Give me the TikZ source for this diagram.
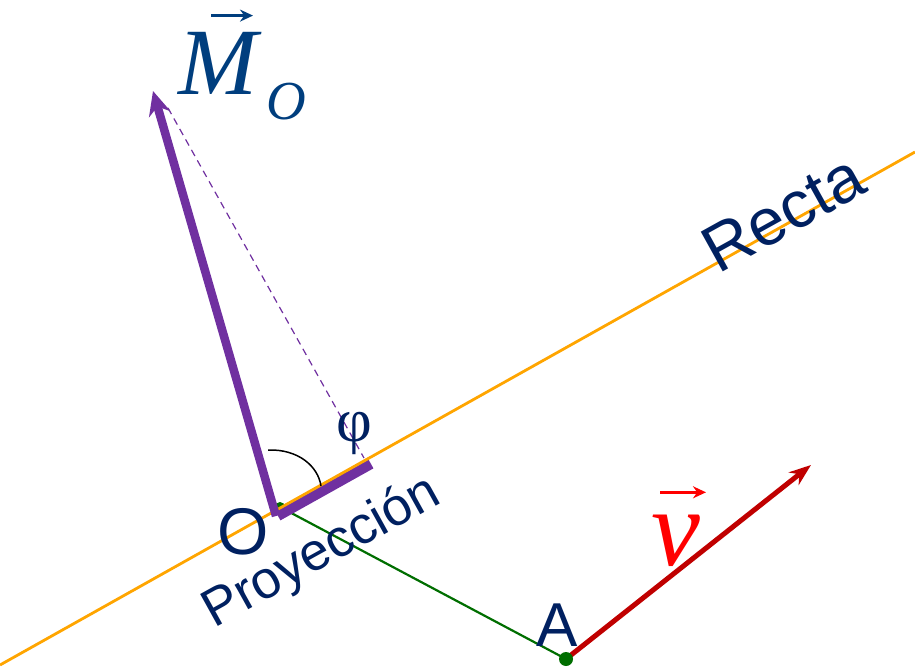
\documentclass[tikz,border=0pt]{standalone}
\usepackage{fontspec}
\setmainfont{Liberation Sans}
\newfontfamily\serifit{Liberation Serif}
\usetikzlibrary{arrows.meta,calc}
\definecolor{navy}{RGB}{0,32,96}
\definecolor{mblue}{RGB}{0,62,126}
\definecolor{naranja}{RGB}{255,165,0}
\definecolor{morado}{RGB}{112,48,160}
\definecolor{rojo}{RGB}{192,0,0}
\definecolor{rojov}{RGB}{255,0,0}
\definecolor{verde}{RGB}{0,110,0}
\tikzset{
  lbl/.style={text=navy, inner sep=0pt},
  fs/.style={font=\fontsize{#1}{#1}\selectfont},
}

\begin{document}
\begin{tikzpicture}[x=1pt, y=-1pt, >=Stealth]
		\useasboundingbox (0,0) rectangle (915,668);
		\coordinate (L1)   at (0,665);
		\coordinate (L2)   at (915,152);
		\coordinate (O)    at (280,507);
		\coordinate (Oc)   at (278,516);
		\coordinate (P)    at (371,464);
		\coordinate (Mtip) at (153,91);
		\coordinate (Dtop) at (168,108);
		\coordinate (Dbot) at (364,458);
		\coordinate (A)    at (566,659);
		\coordinate (Vtip) at (811,465);
		\draw[verde, line width=2.2pt] (O) -- (A);
		\fill[verde] (O) circle (5pt);
		\draw[morado, line width=10pt] (Oc) -- (P);
		\draw[naranja, line width=2.8pt] (L1) -- (L2);
		\draw[morado, line width=8.5pt, line join=miter, -{Stealth[length=24pt, width=22pt]}] ([xshift=-2pt]Oc) -- (Mtip);
		\draw[morado, line width=1.2pt, dashed, dash pattern=on 7pt off 5pt] (Dtop) -- (Dbot);
		\draw[line width=1.5pt] (268,450) .. controls (298,449) and (318,466) .. (321,486);
		\draw[rojo, line width=5pt, -{Stealth[length=22pt, width=16pt]}] (A) -- (Vtip);
		\fill[verde] (A) circle (7pt);
		\node[lbl, fs=95, text=mblue, anchor=base] (M) at (218,95) {\serifit\itshape M};
		\node[lbl, fs=55, text=mblue, anchor=base] (Msub) at (286,120) {\serifit\itshape O};
		\draw[mblue, line width=3pt, -{Stealth[length=13pt, width=12pt]}] ($(M.north)+(-7,-17)$) -- ($(M.north)+(35,-17)$);
		\node[lbl, fs=110, text=rojov, anchor=base] (V) at (676,565) {\serifit\itshape v};
		\draw[rojov, line width=3pt, -{Stealth[length=13pt, width=12pt]}] ($(V.north)+(-16,-22)$) -- ($(V.north)+(30,-22)$);
		\node[lbl, fs=66] (Olab) at (243,532) {O};
		\node[lbl, fs=62] (Alab) at (557,625) {A};
		\node[lbl, fs=62] (phi) at (354,433) {\serifit φ};
		\node[lbl, fs=66, rotate=29] (recta) at (783,213) {Recta};
		\node[lbl, fs=53, rotate=29] (proy) at (322,553) {Proyección};
	\end{tikzpicture}
\end{document}
